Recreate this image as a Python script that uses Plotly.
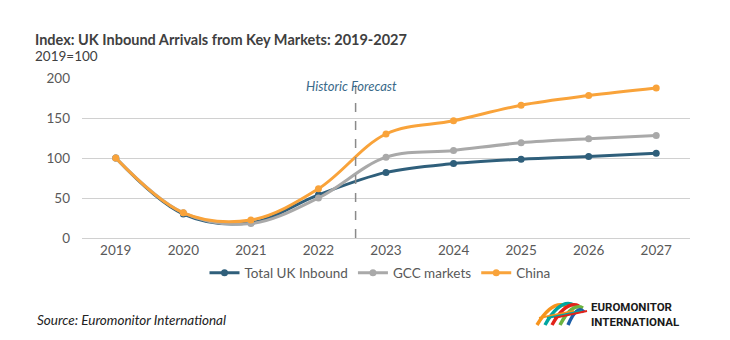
import plotly.graph_objects as go

# Index values, 2019 = 100
years = [2019, 2020, 2021, 2022, 2023, 2024, 2025, 2026, 2027]
total_uk = [100, 30, 19, 54, 82, 93, 98.5, 102, 106]
gcc = [100, 31.5, 18, 50, 101, 109.5, 119, 124, 128]
china = [100, 31.5, 22.5, 61.5, 130, 146.5, 166, 178, 187.5]

series_names = ["Total UK Inbound", "GCC markets", "China"]
series_colors = ["#2f5f7b", "#a9a9a9", "#f9a33a"]
forecast_start = 2022.55

W, H = 730, 340
L, R, T, B = 82, 40, 78, 102
PW, PH = W - L - R, H - T - B


def px(x):
    return (x - L) / PW


def py(y):
    return (H - B - y) / PH


FONT = "Lato, 'Liberation Sans', sans-serif"
TXT = "#595959"

fig = go.Figure()
for name, vals, col in zip(series_names, [total_uk, gcc, china], series_colors):
    fig.add_trace(go.Scatter(
        x=years, y=vals, name=name, mode="lines+markers",
        line=dict(color=col, width=3, shape="spline", smoothing=1.0),
        marker=dict(color=col, size=7),
    ))

# Historic / forecast divider
fig.add_shape(type="line", xref="x", yref="y", x0=forecast_start, x1=forecast_start,
              y0=0, y1=200, line=dict(color="#8a8a8a", width=1.5, dash="dash"))
fig.add_annotation(x=forecast_start, y=190, xref="x", yref="y", text="Historic Forecast",
                   showarrow=False, xanchor="center", yanchor="middle", xshift=-4,
                   font=dict(family=FONT, size=13, color="#3a6a8a", style="italic"))

# Titles and source
fig.add_annotation(x=px(33), y=py(40), xref="paper", yref="paper",
                   text="<b>Index: UK Inbound Arrivals from Key Markets: 2019-2027</b>",
                   showarrow=False, xanchor="left", yanchor="middle",
                   font=dict(family=FONT, size=14.5, color="#404040"))
fig.add_annotation(x=px(33), y=py(56), xref="paper", yref="paper", text="2019=100",
                   showarrow=False, xanchor="left", yanchor="middle",
                   font=dict(family=FONT, size=13.5, color="#404040"))
fig.add_annotation(x=px(35), y=py(320), xref="paper", yref="paper",
                   text="Source: Euromonitor International",
                   showarrow=False, xanchor="left", yanchor="middle",
                   font=dict(family=FONT, size=13.5, color="#222222", style="italic"))

# Euromonitor mark: overlapping coloured arches
arches = [
    ((537, 325), (552, 300), (566, 306), "#f7941d"),
    ((545, 325), (560, 298), (574, 305), "#00a6a0"),
    ((552, 325), (566, 300), (579, 306), "#e2231a"),
    ((560, 325), (572, 302), (583, 308), "#6cb33f"),
    ((568, 325), (577, 304), (584, 312), "#1d5fa8"),
]
for (x0, y0), (cx, cy), (x1, y1), col in arches:
    fig.add_shape(type="path", xref="paper", yref="paper",
                  path=f"M {px(x0)},{py(y0)} Q {px(cx)},{py(cy)} {px(x1)},{py(y1)}",
                  line=dict(color=col, width=3.5))
for (x0, _), _, (x1, _), col in arches[:3]:
    fig.add_shape(type="line", xref="paper", yref="paper",
                  x0=px(x0 + 2), x1=px(x1 + 8), y0=py(318), y1=py(311),
                  line=dict(color=col, width=2))
fig.add_annotation(x=px(589), y=py(314), xref="paper", yref="paper",
                   text="<b>EUROMONITOR<br>INTERNATIONAL</b>", showarrow=False,
                   xanchor="left", yanchor="middle", align="left",
                   font=dict(family="'Roboto', sans-serif", size=11.5, color="#1a1a1a"))

fig.update_layout(
    width=W, height=H,
    margin=dict(l=L, r=R, t=T, b=B),
    paper_bgcolor="white", plot_bgcolor="white",
    font=dict(family=FONT, size=13, color=TXT),
    legend=dict(orientation="h", x=px(380), xanchor="center", y=py(273), yanchor="middle",
                font=dict(family=FONT, size=13.5, color=TXT), itemwidth=30,
                tracegroupgap=0),
    showlegend=True,
)
fig.update_xaxes(range=[2018.5, 2027.5], tickvals=years, showgrid=False, zeroline=False,
                 showline=True, linecolor="#d0d0d0", linewidth=1, ticks="",
                 tickfont=dict(family=FONT, size=13.5, color=TXT), fixedrange=True)
fig.update_yaxes(range=[0, 200], dtick=50, showgrid=True, gridcolor="#d0d0d0", gridwidth=1,
                 zeroline=False, showline=False, ticks="", ticklabelstandoff=11,
                 tickfont=dict(family=FONT, size=13.5, color=TXT), fixedrange=True)

fig.write_html("out.html")
